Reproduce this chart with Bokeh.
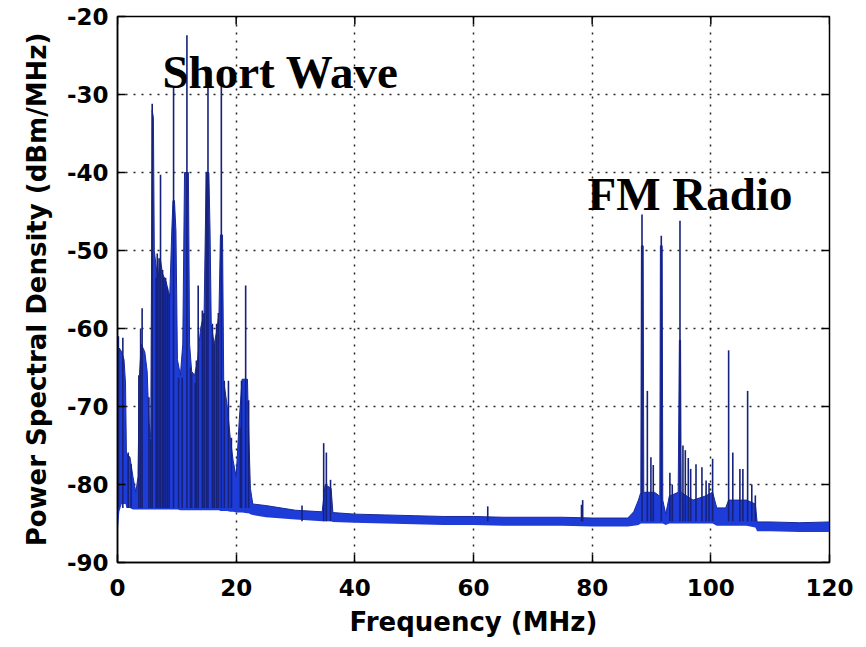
from bokeh.plotting import figure
from bokeh.models import Range1d, FixedTicker, Label, ColumnDataSource, PrintfTickFormatter
from bokeh.embed import file_html
from bokeh.resources import INLINE

# ---- tick values ----
x_ticks = [0, 20, 40, 60, 80, 100, 120]
y_ticks = [-90, -80, -70, -60, -50, -40, -30, -20]

# ---- spectrum body (read envelope of the blue trace): frequency MHz, top dB, bottom dB ----
band_f = [0.0, 0.1, 0.3, 0.7, 1.1, 1.35, 1.5, 2.1, 2.6, 3.1, 3.45, 3.7, 4.0, 4.6, 5.0, 5.3, 5.6,
          5.75, 5.85, 6.05, 6.2, 6.8, 7.2, 7.6, 8.2, 8.8, 9.15, 9.35, 9.6, 9.85, 10.1, 10.6, 11.0,
          11.3, 11.95, 12.15, 12.5, 13.0, 13.5, 14.0, 14.6, 14.95, 15.4, 15.6, 15.8, 16.3, 16.8,
          17.1, 17.35, 17.7, 17.9, 18.5, 19.0, 19.5, 20.0, 20.5, 21.0, 21.9, 22.1, 22.4, 22.8,
          25, 30, 34.5, 35.0, 36.0, 36.3, 40, 45, 50, 55, 60, 65, 70, 75, 80, 86, 87, 87.8,
          88.2, 88.3, 88.6, 88.7, 90.5, 91.4, 91.5, 91.8, 91.9, 92.4, 93.0, 94.5, 94.7, 94.9,
          95.0, 97, 99, 100.3, 101, 102.5, 103, 106, 107.5, 107.8, 110, 115, 120]
band_hi = [-84.5, -64, -62.5, -63, -64, -67, -76, -76.5, -79, -81, -79, -66, -62, -63, -65.5, -72, -74,
           -50, -32, -33, -50, -54, -51, -53, -54, -56, -47.5, -43.6, -43.6, -47.5, -64, -66, -62,
           -40, -40, -62, -65.5, -66, -64, -60, -58, -40, -40, -47.5, -59.5, -62, -60,
           -58, -48, -48, -66.7, -70, -74, -77, -79, -72, -66.5, -66.5, -73, -80.5, -82.5,
           -82.7, -83.3, -83.5, -80, -80.5, -83.6, -83.8, -83.9, -84.0, -84.1, -84.1, -84.2, -84.2, -84.2, -84.3, -84.3, -83.5, -82,
           -81, -49.4, -49.4, -81, -81, -81.5, -49.4, -49.4, -82, -83.8, -81.5, -81, -61.5, -61.5,
           -81, -82, -81.5, -81, -83, -83, -82, -82, -82.5, -84.8, -84.8, -84.9, -84.8]
band_lo = [-86.0, -85.5, -83.5, -82.5, -82.5, -82.5, -83, -83, -83.2, -83.2, -83.2, -83.2, -83.2, -83.2, -83.2, -83.2, -83.2,
           -83.2, -83.2, -83.2, -83.2, -83.2, -83.2, -83.2, -83.2, -83.2, -83.2, -83.2, -83.2, -83.2, -83.2, -83.3, -83.3,
           -83.3, -83.3, -83.3, -83.3, -83.3, -83.3, -83.3, -83.3, -83.3, -83.3, -83.3, -83.3, -83.3, -83.3,
           -83.3, -83.4, -83.4, -83.4, -83.4, -83.5, -83.5, -83.6, -83.6, -83.6, -83.7, -83.7, -83.8, -83.9,
           -84.2, -84.5, -84.7, -84.7, -84.7, -84.8, -84.9, -85.0, -85.1, -85.2, -85.2, -85.3, -85.3, -85.3, -85.4, -85.4, -85.3, -85.2,
           -85, -85, -85, -85, -85, -85, -85, -85, -85, -85.2, -85, -85, -85, -85,
           -85, -85, -85, -85, -85.3, -85.3, -85.3, -85.3, -85.5, -86, -86, -86.1, -86.1]

# ---- individual carrier spikes: frequency MHz, peak dB, foot dB ----
sw_spike_f = [0.15, 0.9, 1.8, 2.3, 3.6, 3.9, 4.15, 5.3, 5.6, 5.85, 6.5, 6.7, 7.0, 7.25, 7.6, 7.8,
              8.1, 8.4, 8.7, 9.45, 10.3, 10.9, 11.7, 12.3, 12.5, 13.1, 13.3, 13.6, 14.3, 14.6,
              15.0, 15.25, 16.0, 16.3, 16.7, 17.0, 17.5, 18.0, 18.7, 19.2, 20.7, 20.9, 21.6, 22.1]
sw_spike_top = [-61.0, -61.2, -75.9, -77.4, -66.0, -60.0, -57.4, -68.8, -74.2, -31.2, -53.5, -50.4, -51.0,
                -40.3, -52.5, -53.5, -53.5, -54.7, -55.5, -29.0, -66.3, -66.3, -22.4, -65.0, -65.8,
                -67.0, -64.1, -54.5, -57.7, -58.0, -40.0, -29.0, -59.4, -62.0, -59.4, -58.0, -29.0,
                -66.7, -66.7, -74.0, -72.7, -66.7, -54.5, -69.2]
other_spike_f = [31.1, 34.75, 35.2, 35.9, 62.4, 78.2, 78.4,
                 88.4, 89.3, 89.9, 90.3, 91.65, 93.1, 93.5, 94.8, 95.3, 95.7, 96.2, 96.6, 97.5,
                 98.5, 99.2, 99.7, 100.3, 103.0, 103.7, 104.9, 105.4, 106.2, 106.9, 107.5]
other_spike_top = [-82.7, -74.7, -75.9, -79.4, -82.8, -82.6, -82.0,
                   -45.4, -68.0, -76.5, -77.5, -48.1, -78.5, -80.0, -46.2, -75.0, -75.6, -76.6, -78.0, -77.4,
                   -77.8, -79.5, -79.8, -76.7, -62.8, -75.9, -78.0, -78.0, -68.0, -80.0, -81.4]
sw_spike_base = -83.0
other_spike_base = -84.7

X_MIN, X_MAX = 0, 120
Y_MIN, Y_MAX = -90, -20

p = figure(width=866, height=647, x_range=Range1d(X_MIN, X_MAX), y_range=Range1d(Y_MIN, Y_MAX),
           output_backend="svg", toolbar_location=None,
           min_border_left=117, min_border_right=37, min_border_top=16, min_border_bottom=85)
p.background_fill_color = "white"
p.border_fill_color = "white"
p.outline_line_color = "black"
p.outline_line_width = 1.5

src_band = ColumnDataSource(dict(f=band_f, hi=band_hi, lo=band_lo))
spk_f = sw_spike_f + other_spike_f
spk_top = sw_spike_top + other_spike_top
spk_base = [sw_spike_base] * len(sw_spike_f) + [other_spike_base] * len(other_spike_f)
src_spk = ColumnDataSource(dict(f=spk_f, top=spk_top, base=spk_base))

p.varea(x="f", y1="lo", y2="hi", source=src_band, fill_color="#1d3cd8")
p.line(x="f", y="hi", source=src_band, line_color="#1a2a9a", line_width=1)
p.segment(x0="f", y0="base", x1="f", y1="top", source=src_spk, line_color="#16227a", line_width=1.6)

# grid
for g in (p.xgrid, p.ygrid):
    g.grid_line_color = "black"
    g.grid_line_dash = "2 6"
    g.grid_line_width = 1.5
    g.grid_line_alpha = 0.85
p.xgrid.ticker = FixedTicker(ticks=x_ticks)
p.ygrid.ticker = FixedTicker(ticks=y_ticks)

FONT = "DejaVu Sans"
for ax in (p.xaxis[0], p.yaxis[0]):
    ax.axis_line_color = "black"
    ax.axis_line_width = 1.5
    ax.major_tick_in = 8
    ax.major_tick_out = 0
    ax.major_tick_line_color = "black"
    ax.major_tick_line_width = 1.5
    ax.minor_tick_line_color = None
    ax.formatter = PrintfTickFormatter(format="%d")
    ax.major_label_text_font = FONT
    ax.major_label_text_font_style = "bold"
    ax.major_label_text_font_size = "23px"
    ax.major_label_text_color = "black"
    ax.axis_label_text_font = FONT
    ax.axis_label_text_font_style = "bold"
    ax.axis_label_text_font_size = "26px"
    ax.axis_label_text_color = "black"

p.xaxis.ticker = FixedTicker(ticks=x_ticks)
p.yaxis.ticker = FixedTicker(ticks=y_ticks)
p.xaxis.axis_label = "Frequency (MHz)"
p.yaxis.axis_label = "Power Spectral Density (dBm/MHz)"
p.xaxis.major_label_standoff = 16
p.xaxis.axis_label_standoff = 8
p.yaxis.major_label_standoff = 9
p.yaxis.axis_label_standoff = 12

# inward ticks on the top and right edges of the box (tick length ~8 px)
tick_len_x = 8 * (X_MAX - X_MIN) / 712.0
tick_len_y = 8 * (Y_MAX - Y_MIN) / 546.0
p.segment(x0=x_ticks, y0=[Y_MAX] * len(x_ticks), x1=x_ticks, y1=[Y_MAX - tick_len_y] * len(x_ticks),
          line_color="black", line_width=1.5)
p.segment(x0=[X_MAX] * len(y_ticks), y0=y_ticks, x1=[X_MAX - tick_len_x] * len(y_ticks), y1=y_ticks,
          line_color="black", line_width=1.5)

p.add_layout(Label(x=7.58, y=-27.15, text="Short Wave", text_font="Liberation Serif",
                   text_font_style="bold", text_font_size="47px", text_color="black",
                   text_baseline="alphabetic"))
p.add_layout(Label(x=79.2, y=-42.8, text="FM Radio", text_font="Liberation Serif",
                   text_font_style="bold", text_font_size="47px", text_color="black",
                   text_baseline="alphabetic"))

open("out.html", "w").write(file_html(p, INLINE))
